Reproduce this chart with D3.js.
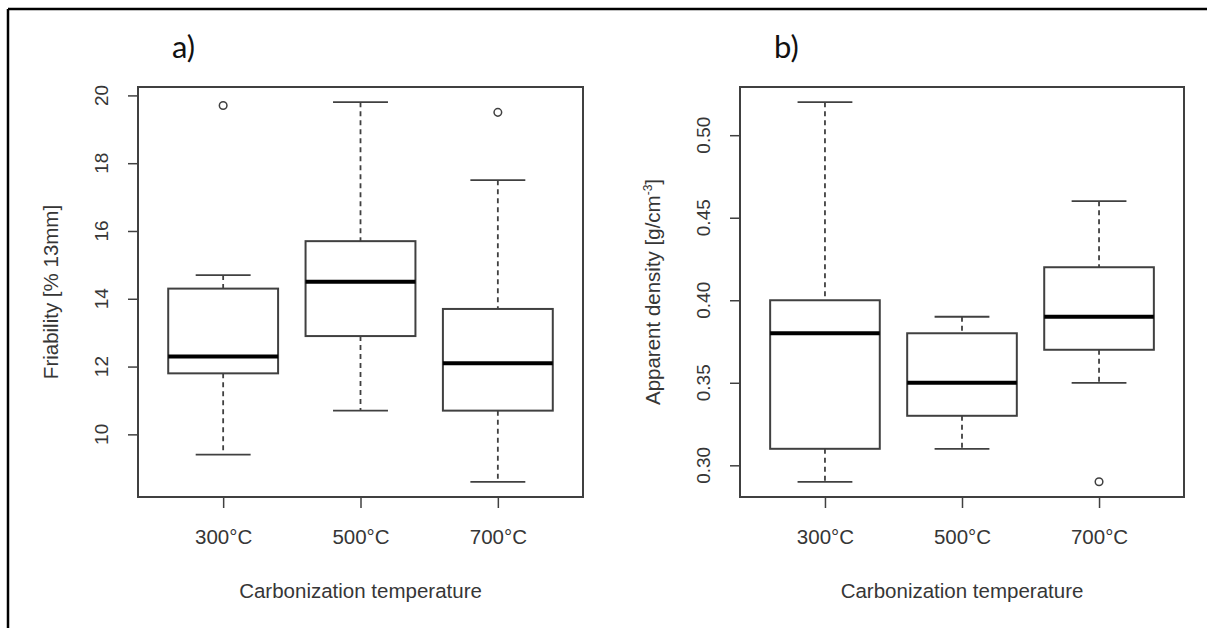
<!DOCTYPE html>
<html>
<head>
<meta charset="utf-8">
<script src="https://cdn.jsdelivr.net/npm/d3@7"></script>
<style>
  html, body { margin: 0; padding: 0; background: #fff; }
  svg { display: block; }
</style>
</head>
<body>
<svg id="chart" width="1207" height="628"></svg>
<script>
// ---- data ----
const categories = ["300°C", "500°C", "700°C"];

const friabLow    = [9.4, 10.7, 8.6];
const friabQ1     = [11.8, 12.9, 10.7];
const friabMedian = [12.3, 14.5, 12.1];
const friabQ3     = [14.3, 15.7, 13.7];
const friabHigh   = [14.7, 19.8, 17.5];
const friabOut    = [[19.7], [], [19.5]];
const friabTicks  = [10, 12, 14, 16, 18, 20];

const densLow    = [0.29, 0.31, 0.35];
const densQ1     = [0.31, 0.33, 0.37];
const densMedian = [0.38, 0.35, 0.39];
const densQ3     = [0.40, 0.38, 0.42];
const densHigh   = [0.52, 0.39, 0.46];
const densOut    = [[], [], [0.29]];
const densTicks  = [0.30, 0.35, 0.40, 0.45, 0.50];

const svg = d3.select("#chart");
const FONT = "'Liberation Sans', Arial, sans-serif";
const TXT = "#363636";
const LINE = "#404040";
const LAB = 20.5;

// outer frame (top and left only, as in the cropped reference)
svg.append("line").attr("x1", 8).attr("x2", 1207).attr("y1", 9).attr("y2", 9)
  .attr("stroke", "#000").attr("stroke-width", 2.5);
svg.append("line").attr("x1", 8).attr("x2", 8).attr("y1", 9).attr("y2", 628)
  .attr("stroke", "#000").attr("stroke-width", 2.5);

function panel(opts) {
  const { left, right, top, bottom, low, q1, med, q3, high, out, ticks, fmt, ylab, letter } = opts;
  const g = svg.append("g");
  const all = low.concat(high, out.flat());
  const mn = d3.min(all), mx = d3.max(all), ext = (mx - mn) * 0.04;
  const y = d3.scaleLinear().domain([mn - ext, mx + ext]).range([bottom, top]);
  const x = d3.scaleLinear().domain([0.5 - 0.12, 3.5 + 0.12]).range([left, right]);
  const unit = x(2) - x(1);
  const bw = 0.8 * unit;

  // y axis
  const yAxis = d3.axisLeft(y).tickValues(ticks).tickFormat(fmt).tickSize(10).tickPadding(0);
  const ya = g.append("g").attr("transform", `translate(${left},0)`).call(yAxis);
  ya.select(".domain").remove();
  ya.selectAll(".tick line").attr("stroke", LINE).attr("stroke-width", 1.5);
  ya.selectAll(".tick text").remove();
  g.selectAll(".ylab").data(ticks).enter().append("text")
    .attr("transform", d => `translate(${left - 30},${y(d)}) rotate(-90)`)
    .attr("text-anchor", "middle")
    .attr("font-family", FONT).attr("font-size", 19).attr("fill", TXT)
    .text(fmt);

  // x axis
  const xAxis = d3.axisBottom(x).tickValues([1, 2, 3]).tickFormat((d) => categories[d - 1])
    .tickSize(11).tickPadding(21);
  const xa = g.append("g").attr("transform", `translate(0,${bottom})`).call(xAxis);
  xa.select(".domain").remove();
  xa.selectAll(".tick line").attr("stroke", LINE).attr("stroke-width", 1.5);
  xa.selectAll(".tick text").attr("font-family", FONT).attr("font-size", LAB).attr("fill", TXT);

  // frame
  g.append("rect").attr("x", left).attr("y", top).attr("width", right - left).attr("height", bottom - top)
    .attr("fill", "none").attr("stroke", LINE).attr("stroke-width", 2);

  // boxes
  categories.forEach((c, i) => {
    const cx = x(i + 1);
    // whiskers
    g.append("line").attr("x1", cx).attr("x2", cx).attr("y1", y(high[i])).attr("y2", y(q3[i]))
      .attr("stroke", LINE).attr("stroke-width", 1.8).attr("stroke-dasharray", "5,4");
    g.append("line").attr("x1", cx).attr("x2", cx).attr("y1", y(q1[i])).attr("y2", y(low[i]))
      .attr("stroke", LINE).attr("stroke-width", 1.8).attr("stroke-dasharray", "5,4");
    // caps
    [high[i], low[i]].forEach(v => {
      g.append("line").attr("x1", cx - bw / 4).attr("x2", cx + bw / 4).attr("y1", y(v)).attr("y2", y(v))
        .attr("stroke", LINE).attr("stroke-width", 1.8);
    });
    // box
    g.append("rect").attr("x", cx - bw / 2).attr("y", y(q3[i])).attr("width", bw).attr("height", y(q1[i]) - y(q3[i]))
      .attr("fill", "#fff").attr("stroke", LINE).attr("stroke-width", 2);
    // median
    g.append("line").attr("x1", cx - bw / 2).attr("x2", cx + bw / 2).attr("y1", y(med[i])).attr("y2", y(med[i]))
      .attr("stroke", "#000").attr("stroke-width", 4);
    // outliers
    out[i].forEach(v => {
      g.append("circle").attr("cx", cx).attr("cy", y(v)).attr("r", 3.8)
        .attr("fill", "none").attr("stroke", LINE).attr("stroke-width", 1.5);
    });
  });

  // axis titles
  g.append("text").attr("x", (left + right) / 2).attr("y", 598)
    .attr("text-anchor", "middle").attr("font-family", FONT).attr("font-size", LAB).attr("fill", TXT)
    .text("Carbonization temperature");
  const yt = g.append("text")
    .attr("transform", `translate(${left - 80},${(top + bottom) / 2}) rotate(-90)`)
    .attr("text-anchor", "middle").attr("font-family", FONT).attr("font-size", LAB).attr("fill", TXT);
  ylab(yt);

  // panel letter
  g.append("text").attr("x", left + 34).attr("y", 58)
    .attr("font-family", "Lato, 'Open Sans', sans-serif").attr("font-size", 31).attr("fill", "#111")
    .text(letter);
}

panel({
  left: 138, right: 583, top: 87, bottom: 497,
  low: friabLow, q1: friabQ1, med: friabMedian, q3: friabQ3, high: friabHigh, out: friabOut,
  ticks: friabTicks, fmt: d3.format("d"),
  ylab: t => t.text("Friability [% 13mm]"),
  letter: "a)"
});

panel({
  left: 740, right: 1184, top: 87, bottom: 497,
  low: densLow, q1: densQ1, med: densMedian, q3: densQ3, high: densHigh, out: densOut,
  ticks: densTicks, fmt: d3.format(".2f"),
  ylab: t => {
    t.append("tspan").text("Apparent density [g/cm");
    t.append("tspan").attr("dy", -8).attr("font-size", 12).text("-3");
    t.append("tspan").attr("dy", 8).text("]");
  },
  letter: "b)"
});
</script>
</body>
</html>
